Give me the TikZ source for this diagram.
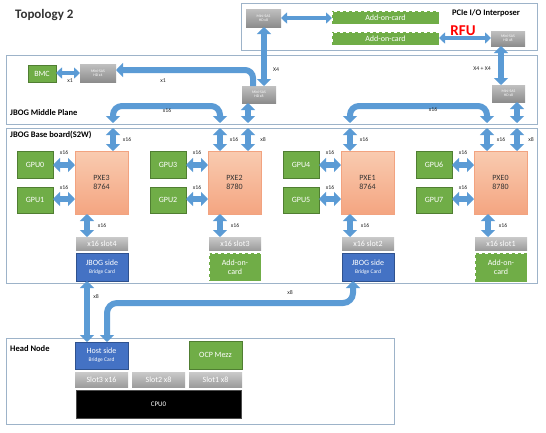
\documentclass[tikz,border=0pt]{standalone}
\usepackage{fontspec}
\setmainfont{Carlito}
\usetikzlibrary{arrows.meta}
\definecolor{gr}{HTML}{70AD47}
\definecolor{grd}{HTML}{507E32}
\definecolor{bl}{HTML}{4472C4}
\definecolor{bld}{HTML}{2F528F}
\definecolor{ab}{HTML}{5B9BD5}
\definecolor{panelc}{HTML}{9DB3C9}
\definecolor{pxeT}{HTML}{F9CBB0}
\definecolor{pxeB}{HTML}{F4A581}
\definecolor{pxeD}{HTML}{F2A380}
\definecolor{gT}{HTML}{CACACA}
\definecolor{gB}{HTML}{9C9C9C}
\definecolor{lbl}{HTML}{262626}
\newcommand{\bx}[7]{\node[#2, anchor=north west, minimum width={((#5)-(#3))*1pt}, minimum height={((#6)-(#4))*1pt}] (#1) at ({#3},{#4}) {#7};}
\begin{document}
\begin{tikzpicture}[x=1pt,y=-1pt,
  panel/.style={draw=panelc, line width=0.8pt},
  base/.style={inner sep=0pt, outer sep=0pt, align=center},
  gpu/.style={base, fill=gr, draw=grd, line width=0.6pt, text=white, font=\fontsize{8}{9}\selectfont},
  addon/.style={base, fill=gr, draw=white, dashed, line width=0.7pt, text=white, font=\fontsize{8}{9}\selectfont},
  pxe/.style={base, top color=pxeT, bottom color=pxeB, draw=pxeD, line width=0.5pt, text=black!80, font=\fontsize{8}{9.5}\selectfont},
  slot/.style={base, top color=gT, bottom color=gB, draw=none, text=white, font=\fontsize{8}{9}\selectfont},
  sas/.style={base, top color=gT!95!black, bottom color=gB!90!black, draw=none, text=white, font=\fontsize{3.8}{4.4}\selectfont},
  card/.style={base, fill=bl, draw=bld, line width=0.6pt, text=white, font=\fontsize{8}{9}\selectfont},
  cpu/.style={base, fill=black, draw=black!70, text=white, font=\fontsize{7}{8}\selectfont},
  ttl/.style={anchor=west, inner sep=0pt, font=\bfseries\fontsize{8.5}{10}\selectfont},
  lab/.style={inner sep=0pt, text=lbl, font=\fontsize{5.8}{6.5}\selectfont},
  arr/.style={line width=6pt, draw=ab, arrows={Triangle[width=14pt,length=7pt]-Triangle[width=14pt,length=7pt]}},
  arrs/.style={line width=4pt, draw=ab, arrows={Triangle[width=11pt,length=6pt]-Triangle[width=11pt,length=6pt]}},
  arr1/.style={line width=6pt, draw=ab, arrows={-Triangle[width=14pt,length=7pt]}}
]
\useasboundingbox (0,0) rectangle (546,432);

% title
\node[anchor=west, inner sep=0pt, font=\bfseries\fontsize{13}{15}\selectfont, text=black!80] (title) at (15,15) {Topology 2};

% panels
\draw[panel] (241,3) rectangle (537,50);
\draw[panel] (6,55) rectangle (537,124);
\draw[panel] (6,128) rectangle (537,283);
\draw[panel] (6,338) rectangle (394,424);
\node[ttl] (tI) at (452,13) {PCIe I/O Interposer};
\node[ttl] (tM) at (10,113) {JBOG Middle Plane};
\node[ttl] (tB) at (10,135) {JBOG Base board(S2W)};
\node[ttl] (tH) at (10,349) {Head Node};

% interposer
\bx{msI1}{sas}{246}{9}{281}{27}{Mini-SAS\\HD x8}
\bx{msI2}{sas}{491}{31}{525}{46}{Mini-SAS\\HD x8}
\bx{ad1}{addon}{332}{11}{439}{24}{Add-on-card}
\bx{ad2}{addon}{332}{32}{439}{45}{Add-on-card}
\node[text=red, inner sep=0pt, font=\bfseries\fontsize{15}{16}\selectfont] (rfu) at (463,31) {RFU};
\draw[arrs] (msI1.east |- 0,18) -- (ad1.west |- 0,18);
\draw[arrs] (ad2.east |- 0,38) -- (msI2.west |- 0,38);

% middle plane
\bx{bmc}{gpu}{28}{65}{56}{82}{BMC}
\bx{msM4}{sas}{80}{64}{116}{82}{Mini-SAS\\HD x4}
\bx{msMa}{sas}{242}{86}{276}{103}{Mini-SAS\\HD x8}
\bx{msMb}{sas}{492}{85}{525}{102}{Mini-SAS\\HD x8}
\draw[arrs] (bmc.east |- 0,73) -- (msM4.west |- 0,73);
\node[lab] (lx1a) at (70,81) {x1};
\draw[arr1, rounded corners=8pt] (253,86) -- (253,70) -- (msM4.east |- 0,70);
\node[lab] (lx1b) at (163,81) {x1};
\draw[arr] (msI1.south -| 264,0) -- (msMa.north -| 264,0);
\node[lab] (lx4) at (276,70) {X4};
\draw[arr] (msI2.south -| 501,0) -- (msMb.north -| 501,0);
\node[lab] (lx44) at (482,69) {X4 + X4};
\coordinate (mb1) at (248,123);
\draw[arr] (msMa.south -| mb1) -- (mb1);
\coordinate (mb2) at (517,123);
\draw[arr] (msMb.south -| mb2) -- (mb2);
\coordinate (ml1) at (113,123);
\coordinate (ml2) at (220,123);
\draw[arr, rounded corners=9pt] (ml1) -- (113,106) -- (220,106) -- (ml2);
\node[lab] (lx16a) at (167,111) {x16};
\coordinate (mr1) at (350,123);
\coordinate (mr2) at (487,123);
\draw[arr, rounded corners=9pt] (mr1) -- (350,106) -- (487,106) -- (mr2);
\node[lab] (lx16b) at (433,110) {x16};

% base board
\foreach \n/\L/\nm/\ga/\gb/\ta/\bt/\sn in {3/75/8764/0/1/113/87/4, 2/208/8780/3/2/220/220/3, 1/341/8764/4/5/350/350/2, 0/474/8780/6/7/487/488/1}{
  \bx{pxe\n}{pxe}{\L}{151}{\L+53}{214}{PXE\n\\\nm}
  \bx{gpu\ga}{gpu}{\L-58}{151}{\L-22}{178}{GPU\ga}
  \bx{gpu\gb}{gpu}{\L-58}{187}{\L-22}{213}{GPU\gb}
  \draw[arr] (gpu\ga.east |- 0,165) -- (pxe\n.west |- 0,165);
  \draw[arr] (gpu\gb.east |- 0,199) -- (pxe\n.west |- 0,199);
  \node[lab] (la\n) at (\L-11,153) {x16};
  \node[lab] (lb\n) at (\L-11,188) {x16};
  \coordinate (top\n) at (\ta,128);
  \draw[arr] (top\n) -- (pxe\n.north -| top\n);
  \node[lab] (lt\n) at (\ta+14,140) {x16};
  \bx{slot\n}{slot}{\L+1}{237}{\L+53}{250}{x16 slot\sn}
  \draw[arr] (pxe\n.south -| \bt,0) -- (slot\n.north -| \bt,0);
  \node[lab] (ls\n) at (\bt+15,226) {x16};
}
\coordinate (top2b) at (248,128);
\draw[arr] (top2b) -- (pxe2.north -| top2b);
\node[lab] (lt2b) at (263,140) {x8};
\coordinate (top0b) at (517,128);
\draw[arr] (top0b) -- (pxe0.north -| top0b);
\node[lab] (lt0b) at (531,140) {x8};

\bx{jc4}{card}{76}{253}{128}{281}{JBOG side\\[-1pt]{\fontsize{5.5}{6}\selectfont Bridge Card}}
\bx{ac3}{addon}{209}{253}{261}{281}{Add-on-\\card}
\bx{jc2}{card}{342}{253}{394}{281}{JBOG side\\[-1pt]{\fontsize{5.5}{6}\selectfont Bridge Card}}
\bx{ac1}{addon}{475}{253}{527}{282}{Add-on-\\card}

% head node
\bx{hc}{card}{75}{342}{128}{369}{Host side\\[-1pt]{\fontsize{5.5}{6}\selectfont Bridge Card}}
\bx{ocp}{gpu}{189}{341}{242}{369}{OCP Mezz}
\bx{s3}{slot}{75}{372}{128}{387}{Slot3 x16}
\bx{s2}{slot}{132}{372}{185}{387}{Slot2 x8}
\bx{s1}{slot}{189}{372}{242}{387}{Slot1 x8}
\bx{cpu}{cpu}{76}{390}{241}{418}{CPU0}

\draw[arr] (jc4.south -| 87,0) -- (hc.north -| 87,0);
\node[lab] (lx8a) at (96,297) {x8};
\draw[arr, rounded corners=10pt] (hc.north -| 107,0) -- (107,303) -- (353,303) -- (jc2.south -| 353,0);
\node[lab] (lx8b) at (290,293) {x8};
\end{tikzpicture}
\end{document}
